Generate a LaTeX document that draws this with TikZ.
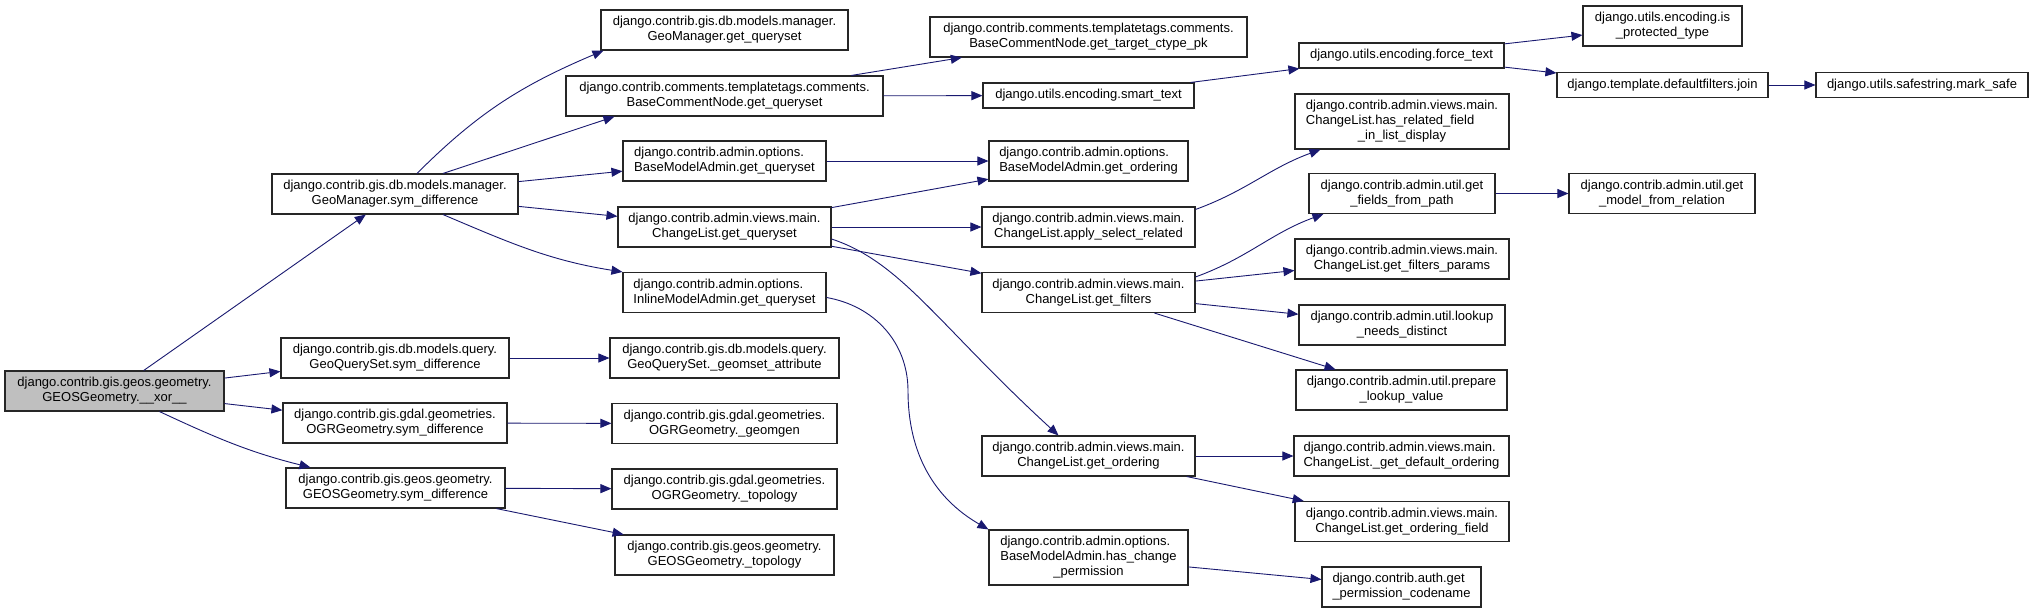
\documentclass[tikz,border=0pt]{standalone}
\usepackage{fontspec}
\setmainfont{Liberation Sans}
\usetikzlibrary{arrows.meta}
\definecolor{midnightblue}{RGB}{25,25,112}
\definecolor{nodegray}{RGB}{191,191,191}
\newcommand{\fnlabel}[2]{\begin{tabular}{@{}l@{}}#1\\\multicolumn{1}{@{}c@{}}{#2}\end{tabular}}

\begin{document}
\begin{tikzpicture}[x=1pt,y=1pt,
		fn/.style={draw=black!85,line width=1.1pt,fill=white,inner sep=0pt,font=\fontsize{13}{15}\selectfont},
		one/.style={fn,minimum height=25},
		two/.style={fn,minimum height=40},
		three/.style={fn,minimum height=55},
		callarrow/.style={draw=midnightblue,line width=0.9pt,-{Triangle[length=11pt,width=9pt]}}]
		\fill[white] (0,0) rectangle (2033,-611);
		\useasboundingbox (0,0) rectangle (2033,-611);
		\node (xor) at (114.5,-391) [two,fill=nodegray,minimum width=219] {\fnlabel{django.contrib.gis.geos.geometry.}{GEOSGeometry.\_\_xor\_\_}};
		\node (gmsym) at (395,-194) [two,minimum width=246] {\fnlabel{django.contrib.gis.db.models.manager.}{GeoManager.sym\_difference}};
		\node (gqssym) at (395,-358) [two,minimum width=228] {\fnlabel{django.contrib.gis.db.models.query.}{GeoQuerySet.sym\_difference}};
		\node (ogrsym) at (395,-423) [two,minimum width=224] {\fnlabel{django.contrib.gis.gdal.geometries.}{OGRGeometry.sym\_difference}};
		\node (geossym) at (395.5,-488) [two,minimum width=219] {\fnlabel{django.contrib.gis.geos.geometry.}{GEOSGeometry.sym\_difference}};
		\node (gmgq) at (724.5,-30) [two,minimum width=247] {\fnlabel{django.contrib.gis.db.models.manager.}{GeoManager.get\_queryset}};
		\node (bcngq) at (724.5,-96) [two,minimum width=317] {\fnlabel{django.contrib.comments.templatetags.comments.}{BaseCommentNode.get\_queryset}};
		\node (bmagq) at (724.5,-161) [two,minimum width=203] {\fnlabel{django.contrib.admin.options.}{BaseModelAdmin.get\_queryset}};
		\node (clgq) at (724.5,-227) [two,minimum width=213] {\fnlabel{django.contrib.admin.views.main.}{ChangeList.get\_queryset}};
		\node (imagq) at (724.5,-292.5) [two,minimum width=203] {\fnlabel{django.contrib.admin.options.}{InlineModelAdmin.get\_queryset}};
		\node (geomset) at (724.5,-358) [two,minimum width=229] {\fnlabel{django.contrib.gis.db.models.query.}{GeoQuerySet.\_geomset\_attribute}};
		\node (geomgen) at (724.5,-423.5) [two,minimum width=225] {\fnlabel{django.contrib.gis.gdal.geometries.}{OGRGeometry.\_geomgen}};
		\node (ogrtopo) at (724.5,-489) [two,minimum width=225] {\fnlabel{django.contrib.gis.gdal.geometries.}{OGRGeometry.\_topology}};
		\node (geostopo) at (724.5,-555) [two,minimum width=219] {\fnlabel{django.contrib.gis.geos.geometry.}{GEOSGeometry.\_topology}};
		\node (ctype) at (1088.5,-37) [two,minimum width=317] {\fnlabel{django.contrib.comments.templatetags.comments.}{BaseCommentNode.get\_target\_ctype\_pk}};
		\node (smarttext) at (1088.5,-95.5) [one,minimum width=211] {django.utils.encoding.smart\_text};
		\node (bmaord) at (1088.5,-161) [two,minimum width=199] {\fnlabel{django.contrib.admin.options.}{BaseModelAdmin.get\_ordering}};
		\node (applysel) at (1088.5,-227) [two,minimum width=213] {\fnlabel{django.contrib.admin.views.main.}{ChangeList.apply\_select\_related}};
		\node (getfilters) at (1088.5,-292.5) [two,minimum width=213] {\fnlabel{django.contrib.admin.views.main.}{ChangeList.get\_filters}};
		\node (clord) at (1088.5,-456) [two,minimum width=213] {\fnlabel{django.contrib.admin.views.main.}{ChangeList.get\_ordering}};
		\node (haschange) at (1088.5,-557.5) [three,minimum width=199] {\fnlabel{django.contrib.admin.options.\\BaseModelAdmin.has\_change}{\_permission}};
		\node (forcetext) at (1401.5,-55.5) [one,minimum width=205] {django.utils.encoding.force\_text};
		\node (hasrel) at (1402,-121.5) [three,minimum width=214] {\fnlabel{django.contrib.admin.views.main.\\ChangeList.has\_related\_field}{\_in\_list\_display}};
		\node (fields) at (1402,-193.5) [two,minimum width=186] {\fnlabel{django.contrib.admin.util.get}{\_fields\_from\_path}};
		\node (filtparams) at (1402,-259) [two,minimum width=214] {\fnlabel{django.contrib.admin.views.main.}{ChangeList.get\_filters\_params}};
		\node (lookup) at (1402,-325) [two,minimum width=206] {\fnlabel{django.contrib.admin.util.lookup}{\_needs\_distinct}};
		\node (prepare) at (1401.5,-390) [two,minimum width=211] {\fnlabel{django.contrib.admin.util.prepare}{\_lookup\_value}};
		\node (defaultord) at (1401.5,-456) [two,minimum width=215] {\fnlabel{django.contrib.admin.views.main.}{ChangeList.\_get\_default\_ordering}};
		\node (ordfield) at (1402,-521.5) [two,minimum width=214] {\fnlabel{django.contrib.admin.views.main.}{ChangeList.get\_ordering\_field}};
		\node (permcode) at (1401.5,-587) [two,minimum width=159] {\fnlabel{django.contrib.auth.get}{\_permission\_codename}};
		\node (isprot) at (1662.5,-26) [two,minimum width=159] {\fnlabel{django.utils.encoding.is}{\_protected\_type}};
		\node (join) at (1662.5,-85) [one,minimum width=211] {django.template.defaultfilters.join};
		\node (marksafe) at (1922,-85) [one,minimum width=212] {django.utils.safestring.mark\_safe};
		\node (modelrel) at (1662,-193.5) [two,minimum width=186] {\fnlabel{django.contrib.admin.util.get}{\_model\_from\_relation}};
		\coordinate (bend) at (908,-391);
		\draw[callarrow] (xor) -- (gmsym);
		\draw[callarrow] (xor) -- (gqssym);
		\draw[callarrow] (xor) -- (ogrsym);
		\draw[callarrow] ([xshift=45]xor.south) to[out=-25,in=166] ([xshift=-85]geossym.north);
		\draw[callarrow] ([xshift=22]gmsym.north) to[out=45,in=203] ([xshift=3]gmgq.south west);
		\draw[callarrow] ([xshift=48]gmsym.north) -- ([xshift=-110]bcngq.south);
		\draw[callarrow] (gmsym) -- (bmagq);
		\draw[callarrow] (gmsym) -- (clgq);
		\draw[callarrow] ([xshift=48]gmsym.south) to[out=-23,in=171] (imagq.north west);
		\draw[callarrow] (gqssym) -- (geomset);
		\draw[callarrow] (ogrsym) -- (geomgen);
		\draw[callarrow] (geossym) -- (ogrtopo);
		\draw[callarrow] (geossym) -- (geostopo);
		\draw[callarrow] (bcngq) -- (ctype);
		\draw[callarrow] (bcngq) -- (smarttext);
		\draw[callarrow] (bmagq) -- (bmaord);
		\draw[callarrow] (clgq) -- (bmaord);
		\draw[callarrow] (clgq) -- (applysel);
		\draw[callarrow] (clgq) -- (getfilters);
		\draw[callarrow] ([yshift=-12]clgq.east) .. controls +(70,-23) and +(-120,110) .. ([xshift=-30]clord.north);
		\draw[callarrow] ([yshift=-5]imagq.east) to[out=-10,in=90] (bend) to[out=-90,in=150] (haschange.north west);
		\draw[callarrow] (smarttext) -- (forcetext);
		\draw[callarrow] ([yshift=-3]applysel.north east) to[out=20,in=200] ([xshift=26]hasrel.south west);
		\draw[callarrow] ([yshift=-5]getfilters.north east) to[out=20,in=200] ([xshift=15]fields.south west);
		\draw[callarrow] (getfilters) -- (filtparams);
		\draw[callarrow] (getfilters) -- (lookup);
		\draw[callarrow] (getfilters) -- (prepare);
		\draw[callarrow] (clord) -- (defaultord);
		\draw[callarrow] (clord) -- (ordfield);
		\draw[callarrow] (haschange) -- (permcode);
		\draw[callarrow] (forcetext) -- (isprot);
		\draw[callarrow] (forcetext) -- (join);
		\draw[callarrow] (join) -- (marksafe);
		\draw[callarrow] (fields) -- (modelrel);
	\end{tikzpicture}
\end{document}
